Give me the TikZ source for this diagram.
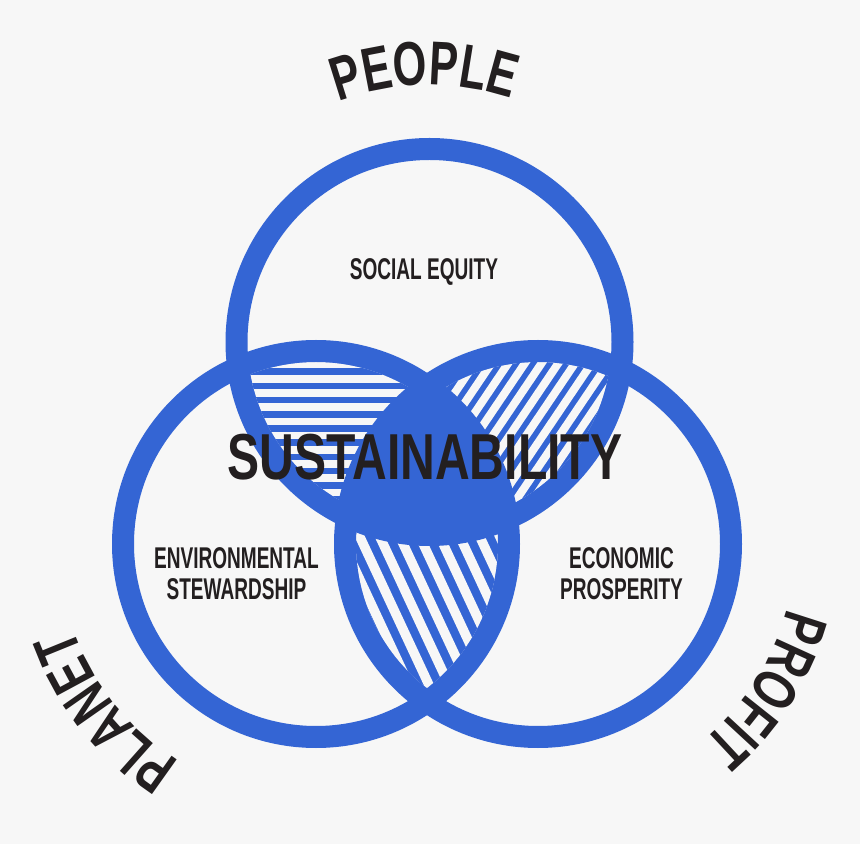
\documentclass[tikz,border=0pt]{standalone}
\usepackage{fontspec}
\newfontfamily\vennfont{Liberation Sans}[FakeStretch=0.74]
\newfontfamily\vennouterfont{Liberation Sans}[FakeStretch=0.70]
\newfontfamily\vennlabelfont{Liberation Sans}[FakeStretch=0.635]
\usetikzlibrary{decorations.text}
\definecolor{vennblue}{HTML}{3465D4}
\definecolor{vennink}{HTML}{231F20}
\definecolor{vennpaper}{HTML}{F7F7F7}
\newcommand{\outerword}{\color{vennink}\vennouterfont\bfseries\fontsize{62pt}{62pt}\selectfont}

\begin{document}
\begin{tikzpicture}[x=1pt, y=1pt,
    ring/.style={draw=vennblue, line width=22pt},
    hatch/.style={draw=vennpaper, line width=#1},
    hatch/.default=7.5pt,
    centertitle/.style={text=vennink, inner sep=0pt,
      font=\vennfont\bfseries\fontsize{65pt}{65pt}\selectfont},
    areatext/.style={text=vennink, inner sep=0pt, align=center,
      font=\vennlabelfont\bfseries\fontsize{30pt}{31pt}\selectfont}]
    \fill[vennpaper] (0, 0) rectangle (860, 844) ;
    \coordinate (cpeople) at (429.5, 502) ;
    \coordinate (cplanet) at (316, 300) ;
    \coordinate (cprofit) at (538, 300) ;
  %--- Hachures People / Planet
    \begin{scope}
      \clip (cpeople) circle (182) ;
      \clip (cplanet) circle (182) ;
      \fill[vennblue] (0, 0) rectangle (860, 844) ;
      \foreach \k in {-12,...,12}
        \draw[hatch] (0, 465.2+14.2*\k) -- (860, 465.2+14.2*\k) ;
    \end{scope}
  %--- Hachures People / Profit
    \begin{scope}
      \clip (cpeople) circle (182) ;
      \clip (cprofit) circle (182) ;
      \fill[vennblue] (0, 0) rectangle (860, 844) ;
      \foreach \k in {-15,...,15}
        \draw[hatch=8pt] (520+16.7*\k, 424) +(56:260) -- +(236:260) ;
    \end{scope}
  %--- Hachures Planet / Profit
    \begin{scope}
      \clip (cplanet) circle (182) ;
      \clip (cprofit) circle (182) ;
      \fill[vennblue] (0, 0) rectangle (860, 844) ;
      \foreach \k in {-15,...,15}
        \draw[hatch=9.5pt] (428+20*\k, 204) +(115:260) -- +(-65:260) ;
    \end{scope}
  %--- Centre plein
    \begin{scope}
      \clip (cpeople) circle (193) ;
      \clip (cplanet) circle (193) ;
      \fill[vennblue] (cprofit) circle (193) ;
    \end{scope}
  %--- Cercles
    \foreach \c in {cpeople, cplanet, cprofit}
      \draw[ring] (\c) circle (193) ;
  %--- Textes
    \node[centertitle] (sustain) at (425, 387) {SUSTAINABILITY} ;
    \node[areatext, anchor=base] (social) at (424, 564) {SOCIAL EQUITY} ;
    \node[areatext] (environ) at (236.5, 270) {ENVIRONMENTAL\\STEWARDSHIP} ;
    \node[areatext] (economic) at (621.5, 270) {ECONOMIC\\PROSPERITY} ;
  %--- Mots courbes
    \path[decorate, decoration={text along path, text align=center,
        text={|\outerword|PEOPLE}}]
      ([shift={(131:257)}]cpeople) arc[start angle=131, end angle=51, radius=257] ;
    \path[decorate, decoration={text along path, text align=center,
        text={|\outerword|PLANET}}]
      ([shift={(258.5:257)}]cplanet) arc[start angle=258.5, end angle=178.5, radius=257] ;
    \path[decorate, decoration={text along path, text align=center,
        text={|\outerword|PROFIT}}]
      ([shift={(7.7:257)}]cprofit) arc[start angle=7.7, end angle=-72.3, radius=257] ;
\end{tikzpicture}
\end{document}
